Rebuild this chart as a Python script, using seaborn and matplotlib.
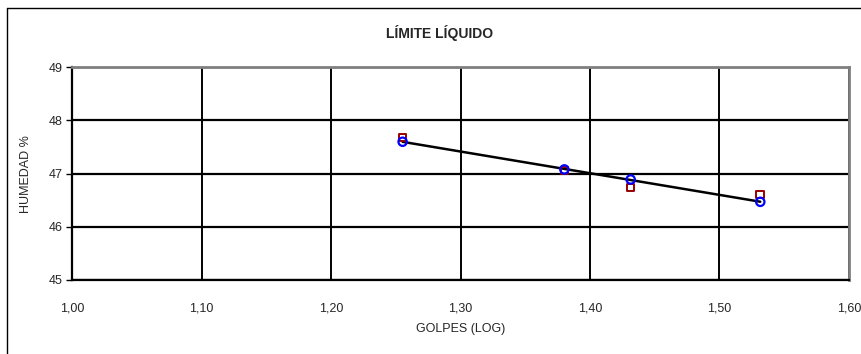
import matplotlib
matplotlib.use("Agg")
import matplotlib.pyplot as plt
import seaborn as sns
import numpy as np
import pandas as pd
from matplotlib.ticker import FixedLocator, FuncFormatter
from matplotlib.lines import Line2D

# Data
golpes_log = [1.2553, 1.3802, 1.4314, 1.5315]
humedad_a = [47.68, 47.06, 46.74, 46.61]   # squares
humedad_b = [47.60, 47.08, 46.89, 46.47]   # circles
x_ticks = [1.00, 1.10, 1.20, 1.30, 1.40, 1.50, 1.60]
y_ticks = [45, 46, 47, 48, 49]
title = "LÍMITE LÍQUIDO"
xlabel = "GOLPES (LOG)"
ylabel = "HUMEDAD %"

sns.set_style("white")
plt.rcParams['font.family'] = ['Liberation Sans Narrow', 'Liberation Sans', 'DejaVu Sans']

fig = plt.figure(figsize=(8.62, 3.54), dpi=100)
ax = fig.add_axes([72/862, 1-280/354, (849-72)/862, (280-67.3)/354])

df = pd.DataFrame({"x": golpes_log, "a": humedad_a, "b": humedad_b})

sns.regplot(data=df, x="x", y="b", ax=ax, scatter=False, ci=None, truncate=True,
            line_kws=dict(color="black", lw=1.8, zorder=3))
sns.scatterplot(data=df, x="x", y="a", ax=ax, marker="s", s=30,
                facecolor="none", edgecolor="#990000", linewidth=1.4, zorder=4)
sns.scatterplot(data=df, x="x", y="b", ax=ax, marker="o", s=36,
                facecolor="none", edgecolor="#0000ff", linewidth=1.6, zorder=5)

ax.set_xlim(1.0, 1.6)
ax.set_ylim(45, 49)
ax.xaxis.set_major_locator(FixedLocator(x_ticks))
ax.yaxis.set_major_locator(FixedLocator(y_ticks))
ax.xaxis.set_major_formatter(FuncFormatter(lambda v, p: f"{v:.2f}".replace(".", ",")))
ax.yaxis.set_major_formatter(FuncFormatter(lambda v, p: f"{v:.0f}"))
ax.grid(True, color="black", lw=1.6)
ax.grid(True, axis="x", color="black", lw=1.4)
ax.set_axisbelow(True)
ax.tick_params(axis="y", which="major", length=4, width=1, color="black", labelsize=9, pad=3, left=True)
ax.tick_params(axis="x", which="major", length=0, labelsize=9, pad=16)

for side in ["left", "bottom"]:
    ax.spines[side].set_color("black")
    ax.spines[side].set_linewidth(1.6)
for side in ["top", "right"]:
    ax.spines[side].set_color("#808080")
    ax.spines[side].set_linewidth(2.0)

ax.set_xlabel(xlabel, fontsize=9, labelpad=6)
ax.set_ylabel(ylabel, fontsize=9, labelpad=12)
fig.text(440/862, 1-33/354, title, ha="center", va="center", fontsize=10, fontweight="bold")

# outer chart-area frame: only left and top edges visible
fig.add_artist(Line2D([7/862, 7/862], [0, 1-8/354], transform=fig.transFigure, color="black", lw=1.0))
fig.add_artist(Line2D([7/862, 1], [1-8/354, 1-8/354], transform=fig.transFigure, color="black", lw=1.0))

fig.savefig("out.png", dpi=100)
